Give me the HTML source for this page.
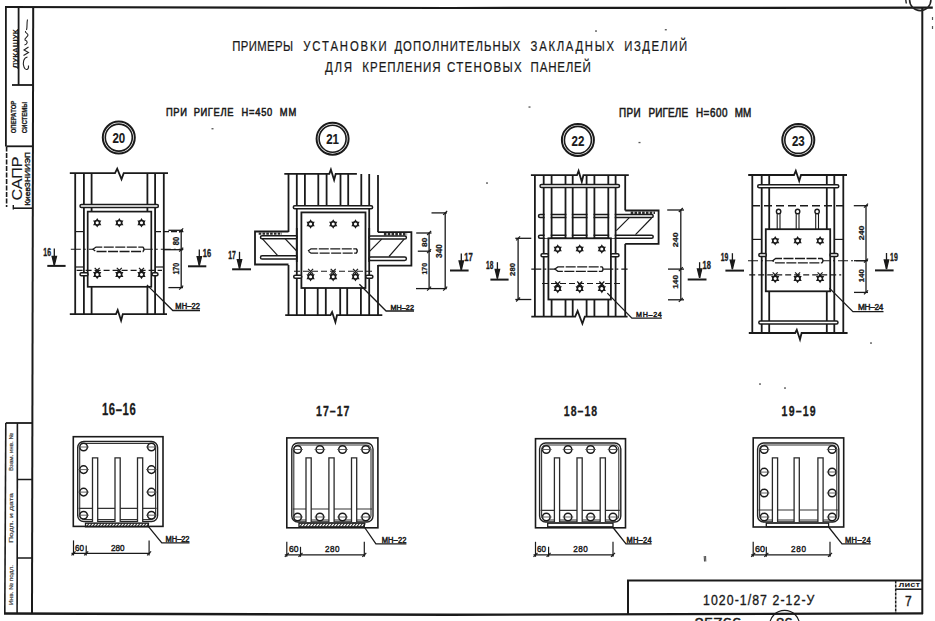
<!DOCTYPE html>
<html><head><meta charset="utf-8"><style>
html,body{margin:0;padding:0;background:#fff;}
svg{display:block;}
</style></head><body>
<svg width="935" height="621" viewBox="0 0 935 621">
<rect x="0" y="0" width="935" height="621" fill="#fff"/>
<polyline points="5.0,7.0 450.0,8.0 932.8,7.7" fill="none" stroke="#1a1a1a" stroke-width="2.2" stroke-linejoin="miter"/>
<line x1="922.3" y1="7.5" x2="922.3" y2="614.0" stroke="#1a1a1a" stroke-width="2" />
<polyline points="4.0,613.5 450.0,614.8 923.0,613.4" fill="none" stroke="#1a1a1a" stroke-width="2.4" stroke-linejoin="miter"/>
<line x1="33.2" y1="7.0" x2="32.0" y2="614.0" stroke="#1a1a1a" stroke-width="2" />
<line x1="5.9" y1="6.5" x2="5.9" y2="146.5" stroke="#1a1a1a" stroke-width="1.8" />
<line x1="6.6" y1="146.5" x2="6.6" y2="207.0" stroke="#1a1a1a" stroke-width="1.6" stroke-dasharray="5,1.5" />
<line x1="18.6" y1="6.5" x2="18.6" y2="85.0" stroke="#1a1a1a" stroke-width="1.8" />
<line x1="12.0" y1="85.0" x2="33.0" y2="85.0" stroke="#1a1a1a" stroke-width="1.8" />
<line x1="6.5" y1="146.3" x2="33.0" y2="146.3" stroke="#1a1a1a" stroke-width="1.8" />
<line x1="5.8" y1="423.0" x2="33.0" y2="423.0" stroke="#1a1a1a" stroke-width="1.8" />
<line x1="5.8" y1="423.0" x2="4.8" y2="613.5" stroke="#1a1a1a" stroke-width="1.6" />
<line x1="17.4" y1="423.0" x2="17.1" y2="613.5" stroke="#1a1a1a" stroke-width="1.6" />
<line x1="17.0" y1="479.5" x2="33.0" y2="479.5" stroke="#1a1a1a" stroke-width="1.5" />
<line x1="17.0" y1="558.0" x2="33.0" y2="558.0" stroke="#1a1a1a" stroke-width="1.5" />
<polyline points="628.0,614.0 628.0,580.5 922.0,580.5" fill="none" stroke="#1a1a1a" stroke-width="2" stroke-linejoin="miter"/>
<line x1="895.7" y1="580.5" x2="895.7" y2="613.5" stroke="#1a1a1a" stroke-width="1.5" stroke-dasharray="3,1" />
<line x1="895.7" y1="589.2" x2="922.0" y2="589.2" stroke="#1a1a1a" stroke-width="1.5" />
<g transform="translate(703.0,604.7) scale(0.86,1)"><text x="0" y="0" font-family="Liberation Sans" font-size="14.31" font-weight="normal" fill="#1a1a1a" stroke="#1a1a1a" stroke-width="0.35" textLength="129.5" lengthAdjust="spacing">1020-1/87 2-12-У</text></g>
<g transform="translate(905.0,605.9) scale(1.0,1)"><text x="0" y="0" font-family="Liberation Sans" font-size="14.31" font-weight="normal" fill="#1a1a1a" stroke="#1a1a1a" stroke-width="0.4" textLength="6.7" lengthAdjust="spacingAndGlyphs">7</text></g>
<g transform="translate(898.6,587.3) scale(1.0,1)"><text x="0" y="0" font-family="Liberation Sans" font-size="6.94" font-weight="bold" fill="#1a1a1a" stroke="#1a1a1a" stroke-width="0" textLength="21.4" lengthAdjust="spacingAndGlyphs">лист</text></g>
<circle cx="784.6" cy="625.4" r="15.0" fill="none" stroke="#1a1a1a" stroke-width="1.2"/>
<g transform="translate(694.6,628.4) scale(1.0,1)"><text x="0" y="0" font-family="Liberation Sans" font-size="15.28" font-weight="normal" fill="#1a1a1a" stroke="#1a1a1a" stroke-width="0.4" textLength="46.6" lengthAdjust="spacingAndGlyphs">25766</text></g>
<g transform="translate(776.0,628.4) scale(1.0,1)"><text x="0" y="0" font-family="Liberation Sans" font-size="15.28" font-weight="normal" fill="#1a1a1a" stroke="#1a1a1a" stroke-width="0.4" textLength="16.7" lengthAdjust="spacingAndGlyphs">86</text></g>
<g transform="translate(14.9,48.8) rotate(-90) translate(-19.5,2.8) scale(1.0,1)"><text x="0" y="0" font-family="Liberation Sans" font-size="7.78" font-weight="bold" fill="#1a1a1a" stroke="#1a1a1a" stroke-width="0.1" textLength="39.0" lengthAdjust="spacingAndGlyphs">ЛУКАШУК</text></g>
<line x1="17.8" y1="29.0" x2="17.8" y2="69.0" stroke="#1a1a1a" stroke-width="0.8" />
<path d="M27.5,57 C23.5,57.5 22.5,63 24,67 C25.5,71 29,70 28.5,65.5 M23.5,55.5 L28.5,52.5 L24,50 L28.5,47 M24.5,45 C28,44 28,41 25,40 C24,38 28,37 28,35 C28,33 24.5,33 25.5,31 M26.5,30 C27.5,27 26.5,24 27.5,19.5" fill="none" stroke="#222" stroke-width="1.1"/>
<g transform="translate(13.6,117.0) rotate(-90) translate(-16.3,2.5) scale(1.0,1)"><text x="0" y="0" font-family="Liberation Sans" font-size="6.94" font-weight="bold" fill="#1a1a1a" stroke="#1a1a1a" stroke-width="0.25" textLength="32.6" lengthAdjust="spacingAndGlyphs">ОПЕРАТОР</text></g>
<g transform="translate(24.5,117.5) rotate(-90) translate(-15.8,2.5) scale(1.0,1)"><text x="0" y="0" font-family="Liberation Sans" font-size="6.94" font-weight="bold" fill="#1a1a1a" stroke="#1a1a1a" stroke-width="0.25" textLength="31.6" lengthAdjust="spacingAndGlyphs">СИСТЕМЫ</text></g>
<g transform="translate(17.1,178.4) rotate(-90) translate(-22.1,5.2) scale(1.0,1)"><text x="0" y="0" font-family="Liberation Sans" font-size="14.31" font-weight="normal" fill="#1a1a1a" stroke="#1a1a1a" stroke-width="0.1" textLength="44.1" lengthAdjust="spacingAndGlyphs">САПР</text></g>
<g transform="translate(26.9,178.9) rotate(-90) translate(-26.9,2.7) scale(1.0,1)"><text x="0" y="0" font-family="Liberation Sans" font-size="7.50" font-weight="normal" fill="#1a1a1a" stroke="#1a1a1a" stroke-width="0.4" textLength="53.8" lengthAdjust="spacingAndGlyphs">КиевЗНИИЭП</text></g>
<line x1="13.3" y1="208.2" x2="33.0" y2="208.2" stroke="#1a1a1a" stroke-width="1.6" />
<line x1="13.3" y1="205.0" x2="13.3" y2="209.5" stroke="#1a1a1a" stroke-width="1.4" />
<g transform="translate(11.0,452.0) rotate(-90) translate(-19.0,2.0) scale(1.0,1)"><text x="0" y="0" font-family="Liberation Sans" font-size="5.56" font-weight="normal" fill="#444" stroke="#444" stroke-width="0.2" textLength="38.0" lengthAdjust="spacingAndGlyphs">Взам. инв. №</text></g>
<g transform="translate(11.0,518.0) rotate(-90) translate(-25.0,2.0) scale(1.0,1)"><text x="0" y="0" font-family="Liberation Sans" font-size="5.56" font-weight="normal" fill="#444" stroke="#444" stroke-width="0.2" textLength="50.0" lengthAdjust="spacingAndGlyphs">Подп. и дата</text></g>
<g transform="translate(11.0,585.0) rotate(-90) translate(-20.0,2.0) scale(1.0,1)"><text x="0" y="0" font-family="Liberation Sans" font-size="5.56" font-weight="normal" fill="#444" stroke="#444" stroke-width="0.2" textLength="40.0" lengthAdjust="spacingAndGlyphs">Инв. № подл.</text></g>
<g transform="translate(232.2,50.5) scale(0.8,1)"><text x="0" y="0" font-family="Liberation Sans" font-size="14.17" font-weight="normal" fill="#1a1a1a" stroke="#1a1a1a" stroke-width="0.22" textLength="76.0" lengthAdjust="spacing">ПРИМЕРЫ</text></g>
<g transform="translate(303.3,50.5) scale(0.8,1)"><text x="0" y="0" font-family="Liberation Sans" font-size="14.17" font-weight="normal" fill="#1a1a1a" stroke="#1a1a1a" stroke-width="0.22" textLength="104.2" lengthAdjust="spacing">УСТАНОВКИ</text></g>
<g transform="translate(394.4,50.5) scale(0.8,1)"><text x="0" y="0" font-family="Liberation Sans" font-size="14.17" font-weight="normal" fill="#1a1a1a" stroke="#1a1a1a" stroke-width="0.22" textLength="157.4" lengthAdjust="spacing">ДОПОЛНИТЕЛЬНЫХ</text></g>
<g transform="translate(530.6,50.5) scale(0.8,1)"><text x="0" y="0" font-family="Liberation Sans" font-size="14.17" font-weight="normal" fill="#1a1a1a" stroke="#1a1a1a" stroke-width="0.22" textLength="104.2" lengthAdjust="spacing">ЗАКЛАДНЫХ</text></g>
<g transform="translate(624.3,50.5) scale(0.8,1)"><text x="0" y="0" font-family="Liberation Sans" font-size="14.17" font-weight="normal" fill="#1a1a1a" stroke="#1a1a1a" stroke-width="0.22" textLength="78.6" lengthAdjust="spacing">ИЗДЕЛИЙ</text></g>
<g transform="translate(325.1,72.4) scale(0.8,1)"><text x="0" y="0" font-family="Liberation Sans" font-size="14.44" font-weight="normal" fill="#1a1a1a" stroke="#1a1a1a" stroke-width="0.22" textLength="33.6" lengthAdjust="spacing">ДЛЯ</text></g>
<g transform="translate(362.3,72.4) scale(0.8,1)"><text x="0" y="0" font-family="Liberation Sans" font-size="14.44" font-weight="normal" fill="#1a1a1a" stroke="#1a1a1a" stroke-width="0.22" textLength="97.9" lengthAdjust="spacing">КРЕПЛЕНИЯ</text></g>
<g transform="translate(447.0,72.4) scale(0.8,1)"><text x="0" y="0" font-family="Liberation Sans" font-size="14.44" font-weight="normal" fill="#1a1a1a" stroke="#1a1a1a" stroke-width="0.22" textLength="93.3" lengthAdjust="spacing">СТЕНОВЫХ</text></g>
<g transform="translate(530.6,72.4) scale(0.8,1)"><text x="0" y="0" font-family="Liberation Sans" font-size="14.44" font-weight="normal" fill="#1a1a1a" stroke="#1a1a1a" stroke-width="0.22" textLength="75.4" lengthAdjust="spacing">ПАНЕЛЕЙ</text></g>
<g transform="translate(166.0,115.7) scale(0.82,1)"><text x="0" y="0" font-family="Liberation Sans" font-size="11.39" font-weight="normal" fill="#1a1a1a" stroke="#1a1a1a" stroke-width="0.55" textLength="25.6" lengthAdjust="spacing">ПРИ</text></g>
<g transform="translate(193.7,115.7) scale(0.82,1)"><text x="0" y="0" font-family="Liberation Sans" font-size="11.39" font-weight="normal" fill="#1a1a1a" stroke="#1a1a1a" stroke-width="0.55" textLength="48.4" lengthAdjust="spacing">РИГЕЛЕ</text></g>
<g transform="translate(241.6,115.7) scale(0.82,1)"><text x="0" y="0" font-family="Liberation Sans" font-size="11.39" font-weight="normal" fill="#1a1a1a" stroke="#1a1a1a" stroke-width="0.55" textLength="37.4" lengthAdjust="spacing">Н=450</text></g>
<g transform="translate(279.8,115.7) scale(0.82,1)"><text x="0" y="0" font-family="Liberation Sans" font-size="11.39" font-weight="normal" fill="#1a1a1a" stroke="#1a1a1a" stroke-width="0.55" textLength="20.0" lengthAdjust="spacing">ММ</text></g>
<g transform="translate(619.1,117.4) scale(0.82,1)"><text x="0" y="0" font-family="Liberation Sans" font-size="12.08" font-weight="normal" fill="#1a1a1a" stroke="#1a1a1a" stroke-width="0.55" textLength="26.1" lengthAdjust="spacing">ПРИ</text></g>
<g transform="translate(648.4,117.4) scale(0.82,1)"><text x="0" y="0" font-family="Liberation Sans" font-size="12.08" font-weight="normal" fill="#1a1a1a" stroke="#1a1a1a" stroke-width="0.55" textLength="48.3" lengthAdjust="spacing">РИГЕЛЕ</text></g>
<g transform="translate(695.9,117.4) scale(0.82,1)"><text x="0" y="0" font-family="Liberation Sans" font-size="12.08" font-weight="normal" fill="#1a1a1a" stroke="#1a1a1a" stroke-width="0.55" textLength="38.5" lengthAdjust="spacing">Н=600</text></g>
<g transform="translate(734.7,117.4) scale(0.82,1)"><text x="0" y="0" font-family="Liberation Sans" font-size="12.08" font-weight="normal" fill="#1a1a1a" stroke="#1a1a1a" stroke-width="0.55" textLength="20.2" lengthAdjust="spacing">ММ</text></g>
<circle cx="118.8" cy="137.6" r="16.0" fill="none" stroke="#1a1a1a" stroke-width="2.0"/>
<circle cx="118.8" cy="137.6" r="13.5" fill="none" stroke="#1a1a1a" stroke-width="1.6"/>
<g transform="translate(112.4,143.2) scale(1.0,1)"><text x="0" y="0" font-family="Liberation Sans" font-size="15.56" font-weight="bold" fill="#1a1a1a" stroke="#1a1a1a" stroke-width="0.15" textLength="12.8" lengthAdjust="spacingAndGlyphs">20</text></g>
<circle cx="332.6" cy="138.7" r="16.0" fill="none" stroke="#1a1a1a" stroke-width="2.0"/>
<circle cx="332.6" cy="138.7" r="13.5" fill="none" stroke="#1a1a1a" stroke-width="1.6"/>
<g transform="translate(326.2,144.3) scale(1.0,1)"><text x="0" y="0" font-family="Liberation Sans" font-size="15.56" font-weight="bold" fill="#1a1a1a" stroke="#1a1a1a" stroke-width="0.15" textLength="12.8" lengthAdjust="spacingAndGlyphs">21</text></g>
<circle cx="577.9" cy="139.9" r="16.0" fill="none" stroke="#1a1a1a" stroke-width="2.0"/>
<circle cx="577.9" cy="139.9" r="13.5" fill="none" stroke="#1a1a1a" stroke-width="1.6"/>
<g transform="translate(571.5,145.5) scale(1.0,1)"><text x="0" y="0" font-family="Liberation Sans" font-size="15.56" font-weight="bold" fill="#1a1a1a" stroke="#1a1a1a" stroke-width="0.15" textLength="12.8" lengthAdjust="spacingAndGlyphs">22</text></g>
<circle cx="798.3" cy="139.9" r="16.0" fill="none" stroke="#1a1a1a" stroke-width="2.0"/>
<circle cx="798.3" cy="139.9" r="13.5" fill="none" stroke="#1a1a1a" stroke-width="1.6"/>
<g transform="translate(791.9,145.5) scale(1.0,1)"><text x="0" y="0" font-family="Liberation Sans" font-size="15.56" font-weight="bold" fill="#1a1a1a" stroke="#1a1a1a" stroke-width="0.15" textLength="12.8" lengthAdjust="spacingAndGlyphs">23</text></g>
<polyline points="69.8,173.1 115.0,173.1 117.2,168.7 121.5,179.3 123.7,173.1 168.0,173.1" fill="none" stroke="#1a1a1a" stroke-width="1.8" stroke-linejoin="miter"/>
<polyline points="69.8,314.1 116.0,314.1 117.7,310.0 121.1,320.5 122.8,314.1 167.0,314.1" fill="none" stroke="#1a1a1a" stroke-width="1.8" stroke-linejoin="miter"/>
<line x1="75.2" y1="173.1" x2="75.2" y2="314.1" stroke="#1a1a1a" stroke-width="1.8" />
<line x1="83.9" y1="173.1" x2="83.9" y2="314.1" stroke="#1a1a1a" stroke-width="1.8" />
<line x1="155.1" y1="173.1" x2="155.1" y2="314.1" stroke="#1a1a1a" stroke-width="1.8" />
<line x1="163.8" y1="173.1" x2="163.8" y2="314.1" stroke="#1a1a1a" stroke-width="1.8" />
<line x1="91.6" y1="173.1" x2="91.6" y2="211.6" stroke="#1a1a1a" stroke-width="1.8" />
<line x1="91.6" y1="286.8" x2="91.6" y2="314.1" stroke="#1a1a1a" stroke-width="1.8" />
<line x1="147.4" y1="173.1" x2="147.4" y2="211.6" stroke="#1a1a1a" stroke-width="1.8" />
<line x1="147.4" y1="286.8" x2="147.4" y2="314.1" stroke="#1a1a1a" stroke-width="1.8" />
<rect x="80.0" y="204.5" width="78.4" height="3.0" rx="1.5" fill="#fff" stroke="#1a1a1a" stroke-width="1.5"/>
<rect x="87.7" y="211.6" width="63.6" height="75.2" rx="0" fill="none" stroke="#1a1a1a" stroke-width="1.7"/>
<polygon points="97.2,219.1 100.4,224.7 94.0,224.7" fill="none" stroke="#1a1a1a" stroke-width="1.1" stroke-linejoin="miter"/>
<polygon points="97.2,226.5 94.0,221.0 100.4,221.0" fill="none" stroke="#1a1a1a" stroke-width="1.1" stroke-linejoin="miter"/>
<circle cx="97.2" cy="222.8" r="2.3" fill="#fff" stroke="#1a1a1a" stroke-width="1.5"/>
<line x1="94.7" y1="267.9" x2="99.7" y2="272.9" stroke="#1a1a1a" stroke-width="1.2" />
<line x1="94.7" y1="272.9" x2="99.7" y2="267.9" stroke="#1a1a1a" stroke-width="1.2" />
<polygon points="97.2,270.8 100.4,276.4 94.0,276.4" fill="none" stroke="#1a1a1a" stroke-width="1.1" stroke-linejoin="miter"/>
<polygon points="97.2,278.2 94.0,272.6 100.4,272.6" fill="none" stroke="#1a1a1a" stroke-width="1.1" stroke-linejoin="miter"/>
<circle cx="97.2" cy="274.5" r="2.3" fill="#fff" stroke="#1a1a1a" stroke-width="1.5"/>
<polygon points="119.3,219.1 122.5,224.7 116.1,224.7" fill="none" stroke="#1a1a1a" stroke-width="1.1" stroke-linejoin="miter"/>
<polygon points="119.3,226.5 116.1,221.0 122.5,221.0" fill="none" stroke="#1a1a1a" stroke-width="1.1" stroke-linejoin="miter"/>
<circle cx="119.3" cy="222.8" r="2.3" fill="#fff" stroke="#1a1a1a" stroke-width="1.5"/>
<line x1="116.8" y1="267.9" x2="121.8" y2="272.9" stroke="#1a1a1a" stroke-width="1.2" />
<line x1="116.8" y1="272.9" x2="121.8" y2="267.9" stroke="#1a1a1a" stroke-width="1.2" />
<polygon points="119.3,270.8 122.5,276.4 116.1,276.4" fill="none" stroke="#1a1a1a" stroke-width="1.1" stroke-linejoin="miter"/>
<polygon points="119.3,278.2 116.1,272.6 122.5,272.6" fill="none" stroke="#1a1a1a" stroke-width="1.1" stroke-linejoin="miter"/>
<circle cx="119.3" cy="274.5" r="2.3" fill="#fff" stroke="#1a1a1a" stroke-width="1.5"/>
<polygon points="141.5,219.1 144.7,224.7 138.3,224.7" fill="none" stroke="#1a1a1a" stroke-width="1.1" stroke-linejoin="miter"/>
<polygon points="141.5,226.5 138.3,221.0 144.7,221.0" fill="none" stroke="#1a1a1a" stroke-width="1.1" stroke-linejoin="miter"/>
<circle cx="141.5" cy="222.8" r="2.3" fill="#fff" stroke="#1a1a1a" stroke-width="1.5"/>
<line x1="139.0" y1="267.9" x2="144.0" y2="272.9" stroke="#1a1a1a" stroke-width="1.2" />
<line x1="139.0" y1="272.9" x2="144.0" y2="267.9" stroke="#1a1a1a" stroke-width="1.2" />
<polygon points="141.5,270.8 144.7,276.4 138.3,276.4" fill="none" stroke="#1a1a1a" stroke-width="1.1" stroke-linejoin="miter"/>
<polygon points="141.5,278.2 138.3,272.6 144.7,272.6" fill="none" stroke="#1a1a1a" stroke-width="1.1" stroke-linejoin="miter"/>
<circle cx="141.5" cy="274.5" r="2.3" fill="#fff" stroke="#1a1a1a" stroke-width="1.5"/>
<line x1="75.0" y1="231.6" x2="84.0" y2="231.6" stroke="#1a1a1a" stroke-width="1.2" />
<line x1="155.0" y1="231.6" x2="183.4" y2="231.6" stroke="#1a1a1a" stroke-width="1.2" stroke-dasharray="6,2" />
<line x1="75.0" y1="267.0" x2="84.0" y2="267.0" stroke="#1a1a1a" stroke-width="1.2" />
<line x1="155.0" y1="267.0" x2="164.0" y2="267.0" stroke="#1a1a1a" stroke-width="1.2" />
<line x1="70.8" y1="249.3" x2="183.4" y2="249.3" stroke="#1a1a1a" stroke-width="1.1" stroke-dasharray="10,3,2,3" />
<path d="M93.0,249.3 L96.0,247.1 L143.0,247.1 Q145.0,249.3 143.0,251.5 L96.0,251.5 Z" fill="#fff" stroke="#1a1a1a" stroke-width="1.3" stroke-dasharray="10,1.5"/>
<line x1="76.6" y1="270.4" x2="162.0" y2="270.4" stroke="#1a1a1a" stroke-width="1.1" stroke-dasharray="6,3" />
<rect x="80.0" y="272.8" width="8.0" height="3.0" rx="1.5" fill="#fff" stroke="#1a1a1a" stroke-width="1.5"/>
<rect x="152.0" y="272.8" width="6.0" height="3.0" rx="1.5" fill="#fff" stroke="#1a1a1a" stroke-width="1.5"/>
<line x1="181.2" y1="230.3" x2="181.2" y2="287.6" stroke="#1a1a1a" stroke-width="1.3" />
<line x1="168.4" y1="230.3" x2="183.0" y2="230.3" stroke="#1a1a1a" stroke-width="1.3" />
<line x1="163.9" y1="249.7" x2="183.0" y2="249.7" stroke="#1a1a1a" stroke-width="1.3" />
<line x1="168.4" y1="287.6" x2="183.0" y2="287.6" stroke="#1a1a1a" stroke-width="1.3" />
<line x1="179.2" y1="232.3" x2="183.2" y2="228.3" stroke="#1a1a1a" stroke-width="1.2" />
<line x1="179.2" y1="251.7" x2="183.2" y2="247.7" stroke="#1a1a1a" stroke-width="1.2" />
<line x1="179.2" y1="289.6" x2="183.2" y2="285.6" stroke="#1a1a1a" stroke-width="1.2" />
<g transform="translate(176.1,241.0) rotate(-90) translate(-4.2,3.1) scale(1.0,1)"><text x="0" y="0" font-family="Liberation Sans" font-size="8.61" font-weight="bold" fill="#1a1a1a" stroke="#1a1a1a" stroke-width="0.25" textLength="8.5" lengthAdjust="spacingAndGlyphs">80</text></g>
<g transform="translate(176.1,268.6) rotate(-90) translate(-6.0,3.1) scale(1.0,1)"><text x="0" y="0" font-family="Liberation Sans" font-size="8.61" font-weight="bold" fill="#1a1a1a" stroke="#1a1a1a" stroke-width="0.25" textLength="11.9" lengthAdjust="spacingAndGlyphs">170</text></g>
<polyline points="146.9,284.9 172.8,310.5 200.0,310.5" fill="none" stroke="#1a1a1a" stroke-width="1.3" stroke-linejoin="miter"/>
<g transform="translate(175.3,308.5) scale(0.9,1)"><text x="0" y="0" font-family="Liberation Sans" font-size="8.33" font-weight="normal" fill="#1a1a1a" stroke="#1a1a1a" stroke-width="0.5" textLength="27.4" lengthAdjust="spacing">МН–22</text></g>
<g transform="translate(43.3,255.7) scale(1.0,1)"><text x="0" y="0" font-family="Liberation Sans" font-size="10.56" font-weight="bold" fill="#1a1a1a" stroke="#1a1a1a" stroke-width="0.35" textLength="7.7" lengthAdjust="spacingAndGlyphs">16</text></g>
<line x1="54.3" y1="248.5" x2="54.3" y2="265.4" stroke="#1a1a1a" stroke-width="1.3" />
<polygon points="52.1,256.4 54.3,265.4 56.5,256.4" fill="#1a1a1a" stroke="#1a1a1a" stroke-width="1.3" stroke-linejoin="miter"/>
<line x1="47.3" y1="265.9" x2="65.6" y2="265.9" stroke="#1a1a1a" stroke-width="2" />
<g transform="translate(202.8,256.7) scale(1.0,1)"><text x="0" y="0" font-family="Liberation Sans" font-size="10.56" font-weight="bold" fill="#1a1a1a" stroke="#1a1a1a" stroke-width="0.35" textLength="8.3" lengthAdjust="spacingAndGlyphs">16</text></g>
<line x1="199.3" y1="249.5" x2="199.3" y2="265.7" stroke="#1a1a1a" stroke-width="1.3" />
<polygon points="197.1,256.7 199.3,265.7 201.5,256.7" fill="#1a1a1a" stroke="#1a1a1a" stroke-width="1.3" stroke-linejoin="miter"/>
<line x1="188.0" y1="266.3" x2="206.3" y2="266.3" stroke="#1a1a1a" stroke-width="2" />
<polyline points="284.3,173.9 329.3,173.9 330.9,169.6 334.1,180.0 335.7,173.9 356.9,173.9" fill="none" stroke="#1a1a1a" stroke-width="1.8" stroke-linejoin="miter"/>
<polyline points="285.2,315.2 330.5,315.2 332.1,312.0 335.4,322.2 337.0,315.2 382.3,315.2" fill="none" stroke="#1a1a1a" stroke-width="1.8" stroke-linejoin="miter"/>
<line x1="288.5" y1="173.9" x2="288.5" y2="232.0" stroke="#1a1a1a" stroke-width="1.8" />
<line x1="288.5" y1="265.0" x2="288.5" y2="315.2" stroke="#1a1a1a" stroke-width="1.8" />
<line x1="378.0" y1="175.0" x2="378.0" y2="232.0" stroke="#1a1a1a" stroke-width="1.8" />
<line x1="378.0" y1="265.0" x2="378.0" y2="315.2" stroke="#1a1a1a" stroke-width="1.8" />
<line x1="296.8" y1="174.0" x2="296.8" y2="315.2" stroke="#1a1a1a" stroke-width="1.8" />
<line x1="369.2" y1="174.0" x2="369.2" y2="315.2" stroke="#1a1a1a" stroke-width="1.8" />
<line x1="304.9" y1="174.0" x2="304.9" y2="206.0" stroke="#1a1a1a" stroke-width="1.8" />
<line x1="304.9" y1="288.0" x2="304.9" y2="315.2" stroke="#1a1a1a" stroke-width="1.8" />
<line x1="318.3" y1="174.0" x2="318.3" y2="206.0" stroke="#1a1a1a" stroke-width="1.8" />
<line x1="317.7" y1="288.0" x2="317.7" y2="315.2" stroke="#1a1a1a" stroke-width="1.8" />
<line x1="326.6" y1="174.0" x2="326.6" y2="206.0" stroke="#1a1a1a" stroke-width="1.8" />
<line x1="325.8" y1="288.0" x2="325.8" y2="315.2" stroke="#1a1a1a" stroke-width="1.8" />
<line x1="340.5" y1="174.0" x2="340.5" y2="206.0" stroke="#1a1a1a" stroke-width="1.8" />
<line x1="340.2" y1="288.0" x2="340.2" y2="315.2" stroke="#1a1a1a" stroke-width="1.8" />
<line x1="348.2" y1="174.0" x2="348.2" y2="206.0" stroke="#1a1a1a" stroke-width="1.8" />
<line x1="347.2" y1="288.0" x2="347.2" y2="315.2" stroke="#1a1a1a" stroke-width="1.8" />
<line x1="361.3" y1="174.0" x2="361.3" y2="206.0" stroke="#1a1a1a" stroke-width="1.8" />
<line x1="360.9" y1="288.0" x2="360.9" y2="315.2" stroke="#1a1a1a" stroke-width="1.8" />
<rect x="293.3" y="205.8" width="79.3" height="3.0" rx="1.5" fill="#fff" stroke="#1a1a1a" stroke-width="1.5"/>
<rect x="301.4" y="212.4" width="64.1" height="75.6" rx="0" fill="none" stroke="#1a1a1a" stroke-width="1.8"/>
<polygon points="310.6,220.3 313.8,225.8 307.4,225.8" fill="none" stroke="#1a1a1a" stroke-width="1.1" stroke-linejoin="miter"/>
<polygon points="310.6,227.7 307.4,222.2 313.8,222.2" fill="none" stroke="#1a1a1a" stroke-width="1.1" stroke-linejoin="miter"/>
<circle cx="310.6" cy="224.0" r="2.3" fill="#fff" stroke="#1a1a1a" stroke-width="1.5"/>
<line x1="308.1" y1="268.8" x2="313.1" y2="273.8" stroke="#1a1a1a" stroke-width="1.2" />
<line x1="308.1" y1="273.8" x2="313.1" y2="268.8" stroke="#1a1a1a" stroke-width="1.2" />
<polygon points="310.6,273.0 313.8,278.6 307.4,278.6" fill="none" stroke="#1a1a1a" stroke-width="1.1" stroke-linejoin="miter"/>
<polygon points="310.6,280.4 307.4,274.8 313.8,274.8" fill="none" stroke="#1a1a1a" stroke-width="1.1" stroke-linejoin="miter"/>
<circle cx="310.6" cy="276.7" r="2.3" fill="#fff" stroke="#1a1a1a" stroke-width="1.5"/>
<polygon points="333.2,220.3 336.4,225.8 330.0,225.8" fill="none" stroke="#1a1a1a" stroke-width="1.1" stroke-linejoin="miter"/>
<polygon points="333.2,227.7 330.0,222.2 336.4,222.2" fill="none" stroke="#1a1a1a" stroke-width="1.1" stroke-linejoin="miter"/>
<circle cx="333.2" cy="224.0" r="2.3" fill="#fff" stroke="#1a1a1a" stroke-width="1.5"/>
<line x1="330.7" y1="268.8" x2="335.7" y2="273.8" stroke="#1a1a1a" stroke-width="1.2" />
<line x1="330.7" y1="273.8" x2="335.7" y2="268.8" stroke="#1a1a1a" stroke-width="1.2" />
<polygon points="333.2,273.0 336.4,278.6 330.0,278.6" fill="none" stroke="#1a1a1a" stroke-width="1.1" stroke-linejoin="miter"/>
<polygon points="333.2,280.4 330.0,274.8 336.4,274.8" fill="none" stroke="#1a1a1a" stroke-width="1.1" stroke-linejoin="miter"/>
<circle cx="333.2" cy="276.7" r="2.3" fill="#fff" stroke="#1a1a1a" stroke-width="1.5"/>
<polygon points="355.5,220.3 358.7,225.8 352.3,225.8" fill="none" stroke="#1a1a1a" stroke-width="1.1" stroke-linejoin="miter"/>
<polygon points="355.5,227.7 352.3,222.2 358.7,222.2" fill="none" stroke="#1a1a1a" stroke-width="1.1" stroke-linejoin="miter"/>
<circle cx="355.5" cy="224.0" r="2.3" fill="#fff" stroke="#1a1a1a" stroke-width="1.5"/>
<line x1="353.0" y1="268.8" x2="358.0" y2="273.8" stroke="#1a1a1a" stroke-width="1.2" />
<line x1="353.0" y1="273.8" x2="358.0" y2="268.8" stroke="#1a1a1a" stroke-width="1.2" />
<polygon points="355.5,273.0 358.7,278.6 352.3,278.6" fill="none" stroke="#1a1a1a" stroke-width="1.1" stroke-linejoin="miter"/>
<polygon points="355.5,280.4 352.3,274.8 358.7,274.8" fill="none" stroke="#1a1a1a" stroke-width="1.1" stroke-linejoin="miter"/>
<circle cx="355.5" cy="276.7" r="2.3" fill="#fff" stroke="#1a1a1a" stroke-width="1.5"/>
<polyline points="288.5,231.5 255.0,231.5 255.0,264.5 288.5,264.5" fill="none" stroke="#1a1a1a" stroke-width="1.8" stroke-linejoin="miter"/>
<line x1="258.7" y1="233.6" x2="282.0" y2="233.6" stroke="#2a2a2a" stroke-width="2.4" stroke-dasharray="2.6,1.2" />
<rect x="260.5" y="235.7" width="36.6" height="3.0" rx="1.5" fill="#fff" stroke="#1a1a1a" stroke-width="1.5"/>
<line x1="262.0" y1="238.4" x2="277.5" y2="255.4" stroke="#1a1a1a" stroke-width="1.2" />
<line x1="284.8" y1="238.4" x2="296.7" y2="251.0" stroke="#1a1a1a" stroke-width="1.2" />
<rect x="260.5" y="255.8" width="36.6" height="3.2" rx="1.6" fill="#fff" stroke="#1a1a1a" stroke-width="1.5"/>
<polyline points="377.8,232.2 411.4,232.2 411.4,265.6 377.8,265.6" fill="none" stroke="#1a1a1a" stroke-width="1.8" stroke-linejoin="miter"/>
<line x1="383.9" y1="234.2" x2="407.1" y2="234.2" stroke="#2a2a2a" stroke-width="2.4" stroke-dasharray="2.6,1.2" />
<rect x="369.0" y="235.9" width="37.4" height="3.2" rx="1.6" fill="#fff" stroke="#1a1a1a" stroke-width="1.5"/>
<line x1="381.7" y1="239.1" x2="369.8" y2="251.1" stroke="#1a1a1a" stroke-width="1.2" />
<line x1="404.2" y1="239.1" x2="389.0" y2="256.5" stroke="#1a1a1a" stroke-width="1.2" />
<rect x="369.0" y="257.0" width="37.4" height="3.4" rx="1.7" fill="#fff" stroke="#1a1a1a" stroke-width="1.5"/>
<line x1="296.8" y1="228.0" x2="296.8" y2="262.0" stroke="#1a1a1a" stroke-width="1.8" />
<line x1="369.2" y1="228.0" x2="369.2" y2="262.0" stroke="#1a1a1a" stroke-width="1.8" />
<path d="M308.0,251.0 L311.0,248.8 L356.3,248.8 Q358.3,251.0 356.3,253.2 L311.0,253.2 Z" fill="#fff" stroke="#1a1a1a" stroke-width="1.3" stroke-dasharray="10,1.5"/>
<line x1="294.0" y1="271.3" x2="373.3" y2="271.3" stroke="#1a1a1a" stroke-width="1.1" stroke-dasharray="6,3" />
<rect x="293.7" y="275.2" width="8.0" height="3.0" rx="1.5" fill="#fff" stroke="#1a1a1a" stroke-width="1.5"/>
<rect x="365.8" y="275.2" width="7.1" height="3.0" rx="1.5" fill="#fff" stroke="#1a1a1a" stroke-width="1.5"/>
<line x1="429.1" y1="233.0" x2="429.1" y2="288.6" stroke="#1a1a1a" stroke-width="1.3" />
<line x1="416.2" y1="233.0" x2="431.5" y2="233.0" stroke="#1a1a1a" stroke-width="1.3" />
<line x1="417.8" y1="251.2" x2="431.0" y2="251.2" stroke="#1a1a1a" stroke-width="1.3" />
<line x1="416.0" y1="288.6" x2="446.8" y2="288.6" stroke="#1a1a1a" stroke-width="1.3" />
<line x1="445.2" y1="212.9" x2="445.2" y2="288.6" stroke="#1a1a1a" stroke-width="1.3" />
<line x1="431.5" y1="212.9" x2="447.0" y2="212.9" stroke="#1a1a1a" stroke-width="1.3" />
<line x1="427.1" y1="235.0" x2="431.1" y2="231.0" stroke="#1a1a1a" stroke-width="1.2" />
<line x1="427.1" y1="253.2" x2="431.1" y2="249.2" stroke="#1a1a1a" stroke-width="1.2" />
<line x1="427.1" y1="290.6" x2="431.1" y2="286.6" stroke="#1a1a1a" stroke-width="1.2" />
<line x1="443.2" y1="214.9" x2="447.2" y2="210.9" stroke="#1a1a1a" stroke-width="1.2" />
<line x1="443.2" y1="290.6" x2="447.2" y2="286.6" stroke="#1a1a1a" stroke-width="1.2" />
<g transform="translate(424.5,242.3) rotate(-90) translate(-4.7,2.9) scale(1.0,1)"><text x="0" y="0" font-family="Liberation Sans" font-size="8.06" font-weight="bold" fill="#1a1a1a" stroke="#1a1a1a" stroke-width="0.25" textLength="9.4" lengthAdjust="spacingAndGlyphs">80</text></g>
<g transform="translate(424.5,268.8) rotate(-90) translate(-5.8,2.9) scale(1.0,1)"><text x="0" y="0" font-family="Liberation Sans" font-size="8.06" font-weight="bold" fill="#1a1a1a" stroke="#1a1a1a" stroke-width="0.25" textLength="11.6" lengthAdjust="spacingAndGlyphs">170</text></g>
<g transform="translate(438.6,251.0) rotate(-90) translate(-6.9,3.2) scale(1.0,1)"><text x="0" y="0" font-family="Liberation Sans" font-size="9.03" font-weight="bold" fill="#1a1a1a" stroke="#1a1a1a" stroke-width="0.25" textLength="13.8" lengthAdjust="spacingAndGlyphs">340</text></g>
<polyline points="359.4,284.2 386.1,311.0 414.0,311.0" fill="none" stroke="#1a1a1a" stroke-width="1.3" stroke-linejoin="miter"/>
<g transform="translate(390.4,309.8) scale(0.9,1)"><text x="0" y="0" font-family="Liberation Sans" font-size="8.06" font-weight="normal" fill="#1a1a1a" stroke="#1a1a1a" stroke-width="0.5" textLength="26.2" lengthAdjust="spacing">МН–22</text></g>
<g transform="translate(228.2,259.1) scale(1.0,1)"><text x="0" y="0" font-family="Liberation Sans" font-size="10.69" font-weight="bold" fill="#1a1a1a" stroke="#1a1a1a" stroke-width="0.35" textLength="7.6" lengthAdjust="spacingAndGlyphs">17</text></g>
<line x1="239.5" y1="251.8" x2="239.5" y2="268.7" stroke="#1a1a1a" stroke-width="1.3" />
<polygon points="237.3,259.7 239.5,268.7 241.7,259.7" fill="#1a1a1a" stroke="#1a1a1a" stroke-width="1.3" stroke-linejoin="miter"/>
<line x1="232.1" y1="269.3" x2="251.0" y2="269.3" stroke="#1a1a1a" stroke-width="2" />
<g transform="translate(464.2,260.7) scale(1.0,1)"><text x="0" y="0" font-family="Liberation Sans" font-size="10.56" font-weight="bold" fill="#1a1a1a" stroke="#1a1a1a" stroke-width="0.35" textLength="8.6" lengthAdjust="spacingAndGlyphs">17</text></g>
<line x1="461.3" y1="253.5" x2="461.3" y2="270.0" stroke="#1a1a1a" stroke-width="1.3" />
<polygon points="459.1,261.0 461.3,270.0 463.5,261.0" fill="#1a1a1a" stroke="#1a1a1a" stroke-width="1.3" stroke-linejoin="miter"/>
<line x1="450.0" y1="270.5" x2="468.6" y2="270.5" stroke="#1a1a1a" stroke-width="2" />
<polyline points="530.9,175.2 577.0,175.2 578.6,170.9 581.8,181.7 583.4,175.2 628.8,175.2" fill="none" stroke="#1a1a1a" stroke-width="1.8" stroke-linejoin="miter"/>
<polyline points="531.3,316.6 575.2,316.6 577.6,311.0 582.4,323.7 584.8,316.6 627.6,316.6" fill="none" stroke="#1a1a1a" stroke-width="1.8" stroke-linejoin="miter"/>
<rect x="538.5" y="214.5" width="114.7" height="3.0" rx="1.5" fill="#fff" stroke="#1a1a1a" stroke-width="1.5"/>
<rect x="538.5" y="235.3" width="114.7" height="3.0" rx="1.5" fill="#fff" stroke="#1a1a1a" stroke-width="1.5"/>
<rect x="544.6" y="178" width="6.1" height="60.3" fill="#fff"/>
<rect x="566.4" y="178" width="5.4" height="60.3" fill="#fff"/>
<rect x="587.5" y="178" width="6.0" height="60.3" fill="#fff"/>
<rect x="609.2" y="178" width="5.5" height="60.3" fill="#fff"/>
<line x1="534.9" y1="175.2" x2="534.9" y2="316.6" stroke="#1a1a1a" stroke-width="1.8" />
<line x1="543.7" y1="175.2" x2="543.7" y2="316.6" stroke="#1a1a1a" stroke-width="1.8" />
<line x1="615.6" y1="175.2" x2="615.6" y2="316.6" stroke="#1a1a1a" stroke-width="1.8" />
<line x1="551.6" y1="175.2" x2="551.6" y2="238.3" stroke="#1a1a1a" stroke-width="1.8" />
<line x1="551.6" y1="299.5" x2="551.6" y2="316.6" stroke="#1a1a1a" stroke-width="1.8" />
<line x1="565.5" y1="175.2" x2="565.5" y2="238.3" stroke="#1a1a1a" stroke-width="1.8" />
<line x1="565.5" y1="299.5" x2="565.5" y2="316.6" stroke="#1a1a1a" stroke-width="1.8" />
<line x1="572.7" y1="175.2" x2="572.7" y2="238.3" stroke="#1a1a1a" stroke-width="1.8" />
<line x1="572.7" y1="299.5" x2="572.7" y2="316.6" stroke="#1a1a1a" stroke-width="1.8" />
<line x1="586.6" y1="175.2" x2="586.6" y2="238.3" stroke="#1a1a1a" stroke-width="1.8" />
<line x1="586.6" y1="299.5" x2="586.6" y2="316.6" stroke="#1a1a1a" stroke-width="1.8" />
<line x1="594.4" y1="175.2" x2="594.4" y2="238.3" stroke="#1a1a1a" stroke-width="1.8" />
<line x1="594.4" y1="299.5" x2="594.4" y2="316.6" stroke="#1a1a1a" stroke-width="1.8" />
<line x1="608.3" y1="175.2" x2="608.3" y2="238.3" stroke="#1a1a1a" stroke-width="1.8" />
<line x1="608.3" y1="299.5" x2="608.3" y2="316.6" stroke="#1a1a1a" stroke-width="1.8" />
<line x1="625.2" y1="175.2" x2="625.2" y2="210.5" stroke="#1a1a1a" stroke-width="1.8" />
<line x1="625.2" y1="243.9" x2="625.2" y2="316.6" stroke="#1a1a1a" stroke-width="1.8" />
<rect x="540.0" y="184.6" width="79.5" height="3.0" rx="1.5" fill="#fff" stroke="#1a1a1a" stroke-width="1.5"/>
<polyline points="625.2,210.5 658.6,210.5 658.6,243.9 625.2,243.9" fill="none" stroke="#1a1a1a" stroke-width="1.8" stroke-linejoin="miter"/>
<line x1="630.7" y1="212.8" x2="655.0" y2="212.8" stroke="#2a2a2a" stroke-width="2.4" stroke-dasharray="2.6,1.2" />
<line x1="616.3" y1="230.6" x2="629.1" y2="217.8" stroke="#1a1a1a" stroke-width="1.2" />
<line x1="635.5" y1="234.6" x2="651.6" y2="218.0" stroke="#1a1a1a" stroke-width="1.2" />
<rect x="548.4" y="238.3" width="62.5" height="61.2" rx="0" fill="#fff" stroke="#1a1a1a" stroke-width="1.8"/>
<polygon points="557.7,245.3 560.9,250.8 554.5,250.8" fill="none" stroke="#1a1a1a" stroke-width="1.1" stroke-linejoin="miter"/>
<polygon points="557.7,252.7 554.5,247.2 560.9,247.2" fill="none" stroke="#1a1a1a" stroke-width="1.1" stroke-linejoin="miter"/>
<circle cx="557.7" cy="249.0" r="2.3" fill="#fff" stroke="#1a1a1a" stroke-width="1.5"/>
<line x1="555.2" y1="281.5" x2="560.2" y2="286.5" stroke="#1a1a1a" stroke-width="1.2" />
<line x1="555.2" y1="286.5" x2="560.2" y2="281.5" stroke="#1a1a1a" stroke-width="1.2" />
<polygon points="557.7,284.9 560.9,290.5 554.5,290.5" fill="none" stroke="#1a1a1a" stroke-width="1.1" stroke-linejoin="miter"/>
<polygon points="557.7,292.3 554.5,286.8 560.9,286.8" fill="none" stroke="#1a1a1a" stroke-width="1.1" stroke-linejoin="miter"/>
<circle cx="557.7" cy="288.6" r="2.3" fill="#fff" stroke="#1a1a1a" stroke-width="1.5"/>
<polygon points="579.7,245.3 582.9,250.8 576.5,250.8" fill="none" stroke="#1a1a1a" stroke-width="1.1" stroke-linejoin="miter"/>
<polygon points="579.7,252.7 576.5,247.2 582.9,247.2" fill="none" stroke="#1a1a1a" stroke-width="1.1" stroke-linejoin="miter"/>
<circle cx="579.7" cy="249.0" r="2.3" fill="#fff" stroke="#1a1a1a" stroke-width="1.5"/>
<line x1="577.2" y1="281.5" x2="582.2" y2="286.5" stroke="#1a1a1a" stroke-width="1.2" />
<line x1="577.2" y1="286.5" x2="582.2" y2="281.5" stroke="#1a1a1a" stroke-width="1.2" />
<polygon points="579.7,284.9 582.9,290.5 576.5,290.5" fill="none" stroke="#1a1a1a" stroke-width="1.1" stroke-linejoin="miter"/>
<polygon points="579.7,292.3 576.5,286.8 582.9,286.8" fill="none" stroke="#1a1a1a" stroke-width="1.1" stroke-linejoin="miter"/>
<circle cx="579.7" cy="288.6" r="2.3" fill="#fff" stroke="#1a1a1a" stroke-width="1.5"/>
<polygon points="601.8,245.3 605.0,250.8 598.6,250.8" fill="none" stroke="#1a1a1a" stroke-width="1.1" stroke-linejoin="miter"/>
<polygon points="601.8,252.7 598.6,247.2 605.0,247.2" fill="none" stroke="#1a1a1a" stroke-width="1.1" stroke-linejoin="miter"/>
<circle cx="601.8" cy="249.0" r="2.3" fill="#fff" stroke="#1a1a1a" stroke-width="1.5"/>
<line x1="599.3" y1="281.5" x2="604.3" y2="286.5" stroke="#1a1a1a" stroke-width="1.2" />
<line x1="599.3" y1="286.5" x2="604.3" y2="281.5" stroke="#1a1a1a" stroke-width="1.2" />
<polygon points="601.8,284.9 605.0,290.5 598.6,290.5" fill="none" stroke="#1a1a1a" stroke-width="1.1" stroke-linejoin="miter"/>
<polygon points="601.8,292.3 598.6,286.8 605.0,286.8" fill="none" stroke="#1a1a1a" stroke-width="1.1" stroke-linejoin="miter"/>
<circle cx="601.8" cy="288.6" r="2.3" fill="#fff" stroke="#1a1a1a" stroke-width="1.5"/>
<rect x="541.0" y="253.7" width="7.4" height="3.0" rx="1.5" fill="#fff" stroke="#1a1a1a" stroke-width="1.5"/>
<rect x="610.9" y="253.7" width="8.1" height="3.0" rx="1.5" fill="#fff" stroke="#1a1a1a" stroke-width="1.5"/>
<line x1="531.3" y1="269.1" x2="627.6" y2="269.1" stroke="#1a1a1a" stroke-width="1.1" stroke-dasharray="10,3,2,3" />
<path d="M554.9,269.1 L557.9,266.9 L602.1,266.9 Q604.1,269.1 602.1,271.3 L557.9,271.3 Z" fill="#fff" stroke="#1a1a1a" stroke-width="1.3" stroke-dasharray="10,1.5"/>
<line x1="542.0" y1="283.5" x2="621.2" y2="283.5" stroke="#1a1a1a" stroke-width="1.1" stroke-dasharray="6,3" />
<line x1="518.1" y1="238.3" x2="518.1" y2="299.5" stroke="#1a1a1a" stroke-width="1.3" />
<line x1="515.3" y1="238.3" x2="531.3" y2="238.3" stroke="#1a1a1a" stroke-width="1.3" />
<line x1="515.3" y1="299.5" x2="531.3" y2="299.5" stroke="#1a1a1a" stroke-width="1.3" />
<line x1="516.1" y1="240.3" x2="520.1" y2="236.3" stroke="#1a1a1a" stroke-width="1.2" />
<line x1="516.1" y1="301.5" x2="520.1" y2="297.5" stroke="#1a1a1a" stroke-width="1.2" />
<g transform="translate(512.1,269.4) rotate(-90) translate(-6.5,2.9) scale(1.0,1)"><text x="0" y="0" font-family="Liberation Sans" font-size="8.06" font-weight="bold" fill="#1a1a1a" stroke="#1a1a1a" stroke-width="0.25" textLength="12.9" lengthAdjust="spacingAndGlyphs">280</text></g>
<g transform="translate(486.1,269.2) scale(1.0,1)"><text x="0" y="0" font-family="Liberation Sans" font-size="10.14" font-weight="bold" fill="#1a1a1a" stroke="#1a1a1a" stroke-width="0.35" textLength="7.3" lengthAdjust="spacingAndGlyphs">18</text></g>
<line x1="497.4" y1="262.2" x2="497.4" y2="278.5" stroke="#1a1a1a" stroke-width="1.3" />
<polygon points="495.2,269.5 497.4,278.5 499.6,269.5" fill="#1a1a1a" stroke="#1a1a1a" stroke-width="1.3" stroke-linejoin="miter"/>
<line x1="490.4" y1="279.6" x2="508.6" y2="279.6" stroke="#1a1a1a" stroke-width="2" />
<polyline points="607.3,293.1 631.9,318.1 661.8,318.1" fill="none" stroke="#1a1a1a" stroke-width="1.3" stroke-linejoin="miter"/>
<g transform="translate(636.1,316.6) scale(0.9,1)"><text x="0" y="0" font-family="Liberation Sans" font-size="7.92" font-weight="normal" fill="#1a1a1a" stroke="#1a1a1a" stroke-width="0.5" textLength="28.6" lengthAdjust="spacing">МН–24</text></g>
<line x1="680.8" y1="209.9" x2="680.8" y2="299.8" stroke="#1a1a1a" stroke-width="1.3" />
<line x1="667.2" y1="210.0" x2="684.0" y2="210.0" stroke="#1a1a1a" stroke-width="1.3" />
<line x1="668.0" y1="269.1" x2="684.0" y2="269.1" stroke="#1a1a1a" stroke-width="1.3" />
<line x1="668.0" y1="299.8" x2="684.0" y2="299.8" stroke="#1a1a1a" stroke-width="1.3" />
<line x1="678.8" y1="212.0" x2="682.8" y2="208.0" stroke="#1a1a1a" stroke-width="1.2" />
<line x1="678.8" y1="271.1" x2="682.8" y2="267.1" stroke="#1a1a1a" stroke-width="1.2" />
<line x1="678.8" y1="301.8" x2="682.8" y2="297.8" stroke="#1a1a1a" stroke-width="1.2" />
<g transform="translate(675.5,239.8) rotate(-90) translate(-7.4,2.6) scale(1.0,1)"><text x="0" y="0" font-family="Liberation Sans" font-size="7.22" font-weight="bold" fill="#1a1a1a" stroke="#1a1a1a" stroke-width="0.25" textLength="14.8" lengthAdjust="spacingAndGlyphs">240</text></g>
<g transform="translate(675.5,281.8) rotate(-90) translate(-7.0,2.6) scale(1.0,1)"><text x="0" y="0" font-family="Liberation Sans" font-size="7.22" font-weight="bold" fill="#1a1a1a" stroke="#1a1a1a" stroke-width="0.25" textLength="14.0" lengthAdjust="spacingAndGlyphs">140</text></g>
<g transform="translate(702.5,269.2) scale(1.0,1)"><text x="0" y="0" font-family="Liberation Sans" font-size="10.56" font-weight="bold" fill="#1a1a1a" stroke="#1a1a1a" stroke-width="0.35" textLength="8.3" lengthAdjust="spacingAndGlyphs">18</text></g>
<line x1="699.6" y1="262.2" x2="699.6" y2="277.9" stroke="#1a1a1a" stroke-width="1.3" />
<polygon points="697.4,268.9 699.6,277.9 701.8,268.9" fill="#1a1a1a" stroke="#1a1a1a" stroke-width="1.3" stroke-linejoin="miter"/>
<line x1="687.7" y1="279.5" x2="706.5" y2="279.5" stroke="#1a1a1a" stroke-width="2" />
<polyline points="748.2,175.0 794.0,175.0 795.8,170.8 799.2,181.0 801.0,175.0 847.0,175.0" fill="none" stroke="#1a1a1a" stroke-width="1.8" stroke-linejoin="miter"/>
<polyline points="748.8,333.0 795.2,333.0 796.8,329.8 800.0,339.5 801.6,333.0 847.6,333.0" fill="none" stroke="#1a1a1a" stroke-width="1.8" stroke-linejoin="miter"/>
<line x1="752.3" y1="175.0" x2="752.3" y2="333.0" stroke="#1a1a1a" stroke-width="1.8" />
<line x1="761.7" y1="175.0" x2="761.7" y2="333.0" stroke="#1a1a1a" stroke-width="1.8" />
<line x1="834.3" y1="175.0" x2="834.3" y2="333.0" stroke="#1a1a1a" stroke-width="1.8" />
<line x1="843.3" y1="175.0" x2="843.3" y2="333.0" stroke="#1a1a1a" stroke-width="1.8" />
<line x1="769.2" y1="175.0" x2="769.2" y2="229.2" stroke="#1a1a1a" stroke-width="1.8" />
<line x1="769.2" y1="291.3" x2="769.2" y2="333.0" stroke="#1a1a1a" stroke-width="1.8" />
<line x1="826.8" y1="175.0" x2="826.8" y2="229.2" stroke="#1a1a1a" stroke-width="1.8" />
<line x1="826.8" y1="291.3" x2="826.8" y2="333.0" stroke="#1a1a1a" stroke-width="1.8" />
<rect x="757.7" y="184.7" width="81.1" height="3.0" rx="1.5" fill="#fff" stroke="#1a1a1a" stroke-width="1.5"/>
<rect x="758.8" y="320.9" width="79.2" height="3.0" rx="1.5" fill="#fff" stroke="#1a1a1a" stroke-width="1.5"/>
<line x1="752.0" y1="205.7" x2="843.0" y2="205.7" stroke="#1a1a1a" stroke-width="1.4" stroke-dasharray="8,4" />
<line x1="853.8" y1="205.7" x2="868.0" y2="205.7" stroke="#1a1a1a" stroke-width="1.3" />
<line x1="777.2" y1="213.0" x2="777.2" y2="229.2" stroke="#1a1a1a" stroke-width="1.1" />
<line x1="780.0" y1="213.0" x2="780.0" y2="229.2" stroke="#1a1a1a" stroke-width="1.1" />
<circle cx="778.6" cy="211.5" r="2.2" fill="none" stroke="#1a1a1a" stroke-width="1.4"/>
<line x1="796.2" y1="213.0" x2="796.2" y2="229.2" stroke="#1a1a1a" stroke-width="1.1" />
<line x1="799.0" y1="213.0" x2="799.0" y2="229.2" stroke="#1a1a1a" stroke-width="1.1" />
<circle cx="797.6" cy="211.5" r="2.2" fill="none" stroke="#1a1a1a" stroke-width="1.4"/>
<line x1="815.7" y1="213.0" x2="815.7" y2="229.2" stroke="#1a1a1a" stroke-width="1.1" />
<line x1="818.5" y1="213.0" x2="818.5" y2="229.2" stroke="#1a1a1a" stroke-width="1.1" />
<circle cx="817.1" cy="211.5" r="2.2" fill="none" stroke="#1a1a1a" stroke-width="1.4"/>
<rect x="765.8" y="229.2" width="64.4" height="62.1" rx="0" fill="none" stroke="#1a1a1a" stroke-width="1.8"/>
<polygon points="775.2,237.1 778.4,242.7 772.0,242.7" fill="none" stroke="#1a1a1a" stroke-width="1.1" stroke-linejoin="miter"/>
<polygon points="775.2,244.5 772.0,239.0 778.4,239.0" fill="none" stroke="#1a1a1a" stroke-width="1.1" stroke-linejoin="miter"/>
<circle cx="775.2" cy="240.8" r="2.3" fill="#fff" stroke="#1a1a1a" stroke-width="1.5"/>
<line x1="772.7" y1="272.4" x2="777.7" y2="277.4" stroke="#1a1a1a" stroke-width="1.2" />
<line x1="772.7" y1="277.4" x2="777.7" y2="272.4" stroke="#1a1a1a" stroke-width="1.2" />
<polygon points="775.2,274.8 778.4,280.4 772.0,280.4" fill="none" stroke="#1a1a1a" stroke-width="1.1" stroke-linejoin="miter"/>
<polygon points="775.2,282.2 772.0,276.6 778.4,276.6" fill="none" stroke="#1a1a1a" stroke-width="1.1" stroke-linejoin="miter"/>
<circle cx="775.2" cy="278.5" r="2.3" fill="#fff" stroke="#1a1a1a" stroke-width="1.5"/>
<polygon points="797.6,237.1 800.8,242.7 794.4,242.7" fill="none" stroke="#1a1a1a" stroke-width="1.1" stroke-linejoin="miter"/>
<polygon points="797.6,244.5 794.4,239.0 800.8,239.0" fill="none" stroke="#1a1a1a" stroke-width="1.1" stroke-linejoin="miter"/>
<circle cx="797.6" cy="240.8" r="2.3" fill="#fff" stroke="#1a1a1a" stroke-width="1.5"/>
<line x1="795.1" y1="272.4" x2="800.1" y2="277.4" stroke="#1a1a1a" stroke-width="1.2" />
<line x1="795.1" y1="277.4" x2="800.1" y2="272.4" stroke="#1a1a1a" stroke-width="1.2" />
<polygon points="797.6,274.8 800.8,280.4 794.4,280.4" fill="none" stroke="#1a1a1a" stroke-width="1.1" stroke-linejoin="miter"/>
<polygon points="797.6,282.2 794.4,276.6 800.8,276.6" fill="none" stroke="#1a1a1a" stroke-width="1.1" stroke-linejoin="miter"/>
<circle cx="797.6" cy="278.5" r="2.3" fill="#fff" stroke="#1a1a1a" stroke-width="1.5"/>
<polygon points="820.1,237.1 823.3,242.7 816.9,242.7" fill="none" stroke="#1a1a1a" stroke-width="1.1" stroke-linejoin="miter"/>
<polygon points="820.1,244.5 816.9,239.0 823.3,239.0" fill="none" stroke="#1a1a1a" stroke-width="1.1" stroke-linejoin="miter"/>
<circle cx="820.1" cy="240.8" r="2.3" fill="#fff" stroke="#1a1a1a" stroke-width="1.5"/>
<line x1="817.6" y1="272.4" x2="822.6" y2="277.4" stroke="#1a1a1a" stroke-width="1.2" />
<line x1="817.6" y1="277.4" x2="822.6" y2="272.4" stroke="#1a1a1a" stroke-width="1.2" />
<polygon points="820.1,274.8 823.3,280.4 816.9,280.4" fill="none" stroke="#1a1a1a" stroke-width="1.1" stroke-linejoin="miter"/>
<polygon points="820.1,282.2 816.9,276.6 823.3,276.6" fill="none" stroke="#1a1a1a" stroke-width="1.1" stroke-linejoin="miter"/>
<circle cx="820.1" cy="278.5" r="2.3" fill="#fff" stroke="#1a1a1a" stroke-width="1.5"/>
<line x1="752.0" y1="239.4" x2="762.0" y2="239.4" stroke="#1a1a1a" stroke-width="1.2" />
<line x1="834.0" y1="239.4" x2="843.0" y2="239.4" stroke="#1a1a1a" stroke-width="1.2" />
<line x1="748.0" y1="260.7" x2="869.0" y2="260.7" stroke="#1a1a1a" stroke-width="1.1" stroke-dasharray="10,3,2,3" />
<path d="M772.7,260.7 L775.7,258.5 L822.0,258.5 Q824.0,260.7 822.0,262.9 L775.7,262.9 Z" fill="#fff" stroke="#1a1a1a" stroke-width="1.3" stroke-dasharray="10,1.5"/>
<rect x="758.8" y="253.5" width="7.5" height="3.0" rx="1.5" fill="#fff" stroke="#1a1a1a" stroke-width="1.5"/>
<rect x="830.0" y="253.5" width="8.0" height="3.0" rx="1.5" fill="#fff" stroke="#1a1a1a" stroke-width="1.5"/>
<line x1="749.2" y1="274.9" x2="841.2" y2="274.9" stroke="#1a1a1a" stroke-width="1.1" stroke-dasharray="6,3" />
<polyline points="829.4,288.1 852.9,311.7 883.5,311.7" fill="none" stroke="#1a1a1a" stroke-width="1.3" stroke-linejoin="miter"/>
<g transform="translate(857.9,310.2) scale(0.9,1)"><text x="0" y="0" font-family="Liberation Sans" font-size="9.17" font-weight="normal" fill="#1a1a1a" stroke="#1a1a1a" stroke-width="0.5" textLength="28.4" lengthAdjust="spacing">МН–24</text></g>
<line x1="866.0" y1="205.7" x2="866.0" y2="292.4" stroke="#1a1a1a" stroke-width="1.3" />
<line x1="854.0" y1="260.7" x2="868.0" y2="260.7" stroke="#1a1a1a" stroke-width="1.3" />
<line x1="854.0" y1="292.4" x2="868.0" y2="292.4" stroke="#1a1a1a" stroke-width="1.3" />
<line x1="864.0" y1="207.7" x2="868.0" y2="203.7" stroke="#1a1a1a" stroke-width="1.2" />
<line x1="864.0" y1="262.7" x2="868.0" y2="258.7" stroke="#1a1a1a" stroke-width="1.2" />
<line x1="864.0" y1="294.4" x2="868.0" y2="290.4" stroke="#1a1a1a" stroke-width="1.2" />
<g transform="translate(861.3,233.0) rotate(-90) translate(-7.2,2.6) scale(1.0,1)"><text x="0" y="0" font-family="Liberation Sans" font-size="7.36" font-weight="bold" fill="#1a1a1a" stroke="#1a1a1a" stroke-width="0.25" textLength="14.5" lengthAdjust="spacingAndGlyphs">240</text></g>
<g transform="translate(861.3,275.7) rotate(-90) translate(-6.5,2.6) scale(1.0,1)"><text x="0" y="0" font-family="Liberation Sans" font-size="7.36" font-weight="bold" fill="#1a1a1a" stroke="#1a1a1a" stroke-width="0.25" textLength="13.0" lengthAdjust="spacingAndGlyphs">140</text></g>
<g transform="translate(720.7,260.7) scale(1.0,1)"><text x="0" y="0" font-family="Liberation Sans" font-size="10.28" font-weight="bold" fill="#1a1a1a" stroke="#1a1a1a" stroke-width="0.35" textLength="7.6" lengthAdjust="spacingAndGlyphs">19</text></g>
<line x1="732.4" y1="253.2" x2="732.4" y2="269.2" stroke="#1a1a1a" stroke-width="1.3" />
<polygon points="730.2,260.2 732.4,269.2 734.6,260.2" fill="#1a1a1a" stroke="#1a1a1a" stroke-width="1.3" stroke-linejoin="miter"/>
<line x1="725.4" y1="270.6" x2="744.0" y2="270.6" stroke="#1a1a1a" stroke-width="2" />
<g transform="translate(890.1,260.7) scale(1.0,1)"><text x="0" y="0" font-family="Liberation Sans" font-size="10.56" font-weight="bold" fill="#1a1a1a" stroke="#1a1a1a" stroke-width="0.35" textLength="7.7" lengthAdjust="spacingAndGlyphs">19</text></g>
<line x1="886.5" y1="253.0" x2="886.5" y2="269.0" stroke="#1a1a1a" stroke-width="1.3" />
<polygon points="884.3,260.0 886.5,269.0 888.7,260.0" fill="#1a1a1a" stroke="#1a1a1a" stroke-width="1.3" stroke-linejoin="miter"/>
<line x1="875.0" y1="270.4" x2="893.6" y2="270.4" stroke="#1a1a1a" stroke-width="2" />
<g transform="translate(102.0,414.8) scale(0.7,1)"><text x="0" y="0" font-family="Liberation Sans" font-size="16.11" font-weight="bold" fill="#1a1a1a" stroke="#1a1a1a" stroke-width="0.3" textLength="48.1" lengthAdjust="spacing">16–16</text></g>
<rect x="73.3" y="436.7" width="89.7" height="89.7" rx="0" fill="none" stroke="#1a1a1a" stroke-width="1.6"/>
<rect x="77.7" y="441.5" width="79.9" height="80.0" rx="6" fill="none" stroke="#222" stroke-width="1.4"/>
<rect x="79.7" y="443.5" width="75.9" height="76.0" rx="4.5" fill="none" stroke="#333" stroke-width="1.1"/>
<line x1="78.7" y1="508.4" x2="156.6" y2="508.4" stroke="#333" stroke-width="1.2" />
<path d="M92.5,522.0 V457.8 H97.7 V522.0" fill="#fff" stroke="#2a2a2a" stroke-width="1.3"/>
<path d="M115.0,522.0 V457.8 H120.2 V522.0" fill="#fff" stroke="#2a2a2a" stroke-width="1.3"/>
<path d="M137.5,522.0 V457.8 H142.7 V522.0" fill="#fff" stroke="#2a2a2a" stroke-width="1.3"/>
<circle cx="83.6" cy="447.0" r="3.8" fill="#fff" stroke="#1a1a1a" stroke-width="1.5"/>
<line x1="78.3" y1="447.0" x2="88.9" y2="447.0" stroke="#555" stroke-width="0.9" />
<circle cx="83.6" cy="469.6" r="3.8" fill="#fff" stroke="#1a1a1a" stroke-width="1.5"/>
<line x1="78.3" y1="469.6" x2="88.9" y2="469.6" stroke="#555" stroke-width="0.9" />
<circle cx="83.6" cy="492.1" r="3.8" fill="#fff" stroke="#1a1a1a" stroke-width="1.5"/>
<line x1="78.3" y1="492.1" x2="88.9" y2="492.1" stroke="#555" stroke-width="0.9" />
<circle cx="83.6" cy="515.2" r="3.8" fill="#fff" stroke="#1a1a1a" stroke-width="1.5"/>
<line x1="78.3" y1="515.2" x2="88.9" y2="515.2" stroke="#555" stroke-width="0.9" />
<circle cx="151.4" cy="447.0" r="3.8" fill="#fff" stroke="#1a1a1a" stroke-width="1.5"/>
<line x1="146.1" y1="447.0" x2="156.7" y2="447.0" stroke="#555" stroke-width="0.9" />
<circle cx="151.4" cy="469.6" r="3.8" fill="#fff" stroke="#1a1a1a" stroke-width="1.5"/>
<line x1="146.1" y1="469.6" x2="156.7" y2="469.6" stroke="#555" stroke-width="0.9" />
<circle cx="151.4" cy="492.1" r="3.8" fill="#fff" stroke="#1a1a1a" stroke-width="1.5"/>
<line x1="146.1" y1="492.1" x2="156.7" y2="492.1" stroke="#555" stroke-width="0.9" />
<circle cx="151.4" cy="515.2" r="3.8" fill="#fff" stroke="#1a1a1a" stroke-width="1.5"/>
<line x1="146.1" y1="515.2" x2="156.7" y2="515.2" stroke="#555" stroke-width="0.9" />
<rect x="85.5" y="523.2" width="62.8" height="3.6" rx="0" fill="none" stroke="#1a1a1a" stroke-width="1.3"/>
<line x1="86.5" y1="526.5" x2="89.0" y2="523.5" stroke="#1a1a1a" stroke-width="1.1" />
<line x1="89.5" y1="526.5" x2="92.0" y2="523.5" stroke="#1a1a1a" stroke-width="1.1" />
<line x1="92.5" y1="526.5" x2="95.0" y2="523.5" stroke="#1a1a1a" stroke-width="1.1" />
<line x1="95.5" y1="526.5" x2="98.0" y2="523.5" stroke="#1a1a1a" stroke-width="1.1" />
<line x1="98.5" y1="526.5" x2="101.0" y2="523.5" stroke="#1a1a1a" stroke-width="1.1" />
<line x1="101.5" y1="526.5" x2="104.0" y2="523.5" stroke="#1a1a1a" stroke-width="1.1" />
<line x1="104.5" y1="526.5" x2="107.0" y2="523.5" stroke="#1a1a1a" stroke-width="1.1" />
<line x1="107.5" y1="526.5" x2="110.0" y2="523.5" stroke="#1a1a1a" stroke-width="1.1" />
<line x1="110.5" y1="526.5" x2="113.0" y2="523.5" stroke="#1a1a1a" stroke-width="1.1" />
<line x1="113.5" y1="526.5" x2="116.0" y2="523.5" stroke="#1a1a1a" stroke-width="1.1" />
<line x1="116.5" y1="526.5" x2="119.0" y2="523.5" stroke="#1a1a1a" stroke-width="1.1" />
<line x1="119.5" y1="526.5" x2="122.0" y2="523.5" stroke="#1a1a1a" stroke-width="1.1" />
<line x1="122.5" y1="526.5" x2="125.0" y2="523.5" stroke="#1a1a1a" stroke-width="1.1" />
<line x1="125.5" y1="526.5" x2="128.0" y2="523.5" stroke="#1a1a1a" stroke-width="1.1" />
<line x1="128.5" y1="526.5" x2="131.0" y2="523.5" stroke="#1a1a1a" stroke-width="1.1" />
<line x1="131.5" y1="526.5" x2="134.0" y2="523.5" stroke="#1a1a1a" stroke-width="1.1" />
<line x1="134.5" y1="526.5" x2="137.0" y2="523.5" stroke="#1a1a1a" stroke-width="1.1" />
<line x1="137.5" y1="526.5" x2="140.0" y2="523.5" stroke="#1a1a1a" stroke-width="1.1" />
<line x1="140.5" y1="526.5" x2="143.0" y2="523.5" stroke="#1a1a1a" stroke-width="1.1" />
<line x1="143.5" y1="526.5" x2="146.0" y2="523.5" stroke="#1a1a1a" stroke-width="1.1" />
<line x1="146.5" y1="526.5" x2="149.0" y2="523.5" stroke="#1a1a1a" stroke-width="1.1" />
<polyline points="148.3,526.4 161.8,542.9 189.5,542.9" fill="none" stroke="#1a1a1a" stroke-width="1.3" stroke-linejoin="miter"/>
<g transform="translate(165.6,541.9) scale(0.9,1)"><text x="0" y="0" font-family="Liberation Sans" font-size="8.33" font-weight="normal" fill="#1a1a1a" stroke="#1a1a1a" stroke-width="0.5" textLength="26.6" lengthAdjust="spacing">МН–22</text></g>
<line x1="71.5" y1="553.4" x2="150.1" y2="553.4" stroke="#1a1a1a" stroke-width="1.3" />
<line x1="73.5" y1="540.4" x2="73.5" y2="555.4" stroke="#1a1a1a" stroke-width="1.2" />
<line x1="86.2" y1="545.4" x2="86.2" y2="555.4" stroke="#1a1a1a" stroke-width="1.2" />
<line x1="149.1" y1="540.4" x2="149.1" y2="555.4" stroke="#1a1a1a" stroke-width="1.2" />
<line x1="71.5" y1="555.4" x2="75.5" y2="551.4" stroke="#1a1a1a" stroke-width="1.2" />
<line x1="84.2" y1="555.4" x2="88.2" y2="551.4" stroke="#1a1a1a" stroke-width="1.2" />
<line x1="147.1" y1="555.4" x2="151.1" y2="551.4" stroke="#1a1a1a" stroke-width="1.2" />
<g transform="translate(75.0,550.8) scale(1.0,1)"><text x="0" y="0" font-family="Liberation Sans" font-size="9.58" font-weight="normal" fill="#1a1a1a" stroke="#1a1a1a" stroke-width="0.45" textLength="9.0" lengthAdjust="spacingAndGlyphs">60</text></g>
<g transform="translate(110.9,550.8) scale(0.85,1)"><text x="0" y="0" font-family="Liberation Sans" font-size="9.58" font-weight="normal" fill="#1a1a1a" stroke="#1a1a1a" stroke-width="0.45" textLength="15.9" lengthAdjust="spacing">280</text></g>
<g transform="translate(316.1,415.6) scale(0.7,1)"><text x="0" y="0" font-family="Liberation Sans" font-size="15.14" font-weight="bold" fill="#1a1a1a" stroke="#1a1a1a" stroke-width="0.3" textLength="47.6" lengthAdjust="spacing">17–17</text></g>
<rect x="286.8" y="437.9" width="91.1" height="89.9" rx="0" fill="none" stroke="#1a1a1a" stroke-width="1.6"/>
<rect x="291.8" y="443.0" width="81.2" height="79.0" rx="6" fill="none" stroke="#222" stroke-width="1.4"/>
<rect x="293.8" y="445.0" width="77.2" height="75.0" rx="4.5" fill="none" stroke="#333" stroke-width="1.1"/>
<line x1="292.8" y1="509.0" x2="372.0" y2="509.0" stroke="#333" stroke-width="1.2" />
<path d="M306.0,522.0 V457.8 H311.2 V522.0" fill="#fff" stroke="#2a2a2a" stroke-width="1.3"/>
<path d="M328.9,522.0 V457.8 H334.1 V522.0" fill="#fff" stroke="#2a2a2a" stroke-width="1.3"/>
<path d="M351.5,522.0 V457.8 H356.7 V522.0" fill="#fff" stroke="#2a2a2a" stroke-width="1.3"/>
<circle cx="297.6" cy="449.5" r="3.8" fill="#fff" stroke="#1a1a1a" stroke-width="1.5"/>
<line x1="292.3" y1="449.5" x2="302.9" y2="449.5" stroke="#555" stroke-width="0.9" />
<circle cx="319.9" cy="449.5" r="3.8" fill="#fff" stroke="#1a1a1a" stroke-width="1.5"/>
<line x1="314.6" y1="449.5" x2="325.2" y2="449.5" stroke="#555" stroke-width="0.9" />
<circle cx="342.5" cy="449.5" r="3.8" fill="#fff" stroke="#1a1a1a" stroke-width="1.5"/>
<line x1="337.2" y1="449.5" x2="347.8" y2="449.5" stroke="#555" stroke-width="0.9" />
<circle cx="365.7" cy="449.5" r="3.8" fill="#fff" stroke="#1a1a1a" stroke-width="1.5"/>
<line x1="360.4" y1="449.5" x2="371.0" y2="449.5" stroke="#555" stroke-width="0.9" />
<circle cx="297.6" cy="517.0" r="3.8" fill="#fff" stroke="#1a1a1a" stroke-width="1.5"/>
<line x1="292.3" y1="517.0" x2="302.9" y2="517.0" stroke="#555" stroke-width="0.9" />
<circle cx="319.9" cy="517.0" r="3.8" fill="#fff" stroke="#1a1a1a" stroke-width="1.5"/>
<line x1="314.6" y1="517.0" x2="325.2" y2="517.0" stroke="#555" stroke-width="0.9" />
<circle cx="342.5" cy="517.0" r="3.8" fill="#fff" stroke="#1a1a1a" stroke-width="1.5"/>
<line x1="337.2" y1="517.0" x2="347.8" y2="517.0" stroke="#555" stroke-width="0.9" />
<circle cx="365.7" cy="517.0" r="3.8" fill="#fff" stroke="#1a1a1a" stroke-width="1.5"/>
<line x1="360.4" y1="517.0" x2="371.0" y2="517.0" stroke="#555" stroke-width="0.9" />
<rect x="299.0" y="523.2" width="65.3" height="3.6" rx="0" fill="none" stroke="#1a1a1a" stroke-width="1.3"/>
<line x1="300.0" y1="526.5" x2="302.5" y2="523.5" stroke="#1a1a1a" stroke-width="1.1" />
<line x1="303.0" y1="526.5" x2="305.5" y2="523.5" stroke="#1a1a1a" stroke-width="1.1" />
<line x1="306.0" y1="526.5" x2="308.5" y2="523.5" stroke="#1a1a1a" stroke-width="1.1" />
<line x1="309.0" y1="526.5" x2="311.5" y2="523.5" stroke="#1a1a1a" stroke-width="1.1" />
<line x1="312.0" y1="526.5" x2="314.5" y2="523.5" stroke="#1a1a1a" stroke-width="1.1" />
<line x1="315.0" y1="526.5" x2="317.5" y2="523.5" stroke="#1a1a1a" stroke-width="1.1" />
<line x1="318.0" y1="526.5" x2="320.5" y2="523.5" stroke="#1a1a1a" stroke-width="1.1" />
<line x1="321.0" y1="526.5" x2="323.5" y2="523.5" stroke="#1a1a1a" stroke-width="1.1" />
<line x1="324.0" y1="526.5" x2="326.5" y2="523.5" stroke="#1a1a1a" stroke-width="1.1" />
<line x1="327.0" y1="526.5" x2="329.5" y2="523.5" stroke="#1a1a1a" stroke-width="1.1" />
<line x1="330.0" y1="526.5" x2="332.5" y2="523.5" stroke="#1a1a1a" stroke-width="1.1" />
<line x1="333.0" y1="526.5" x2="335.5" y2="523.5" stroke="#1a1a1a" stroke-width="1.1" />
<line x1="336.0" y1="526.5" x2="338.5" y2="523.5" stroke="#1a1a1a" stroke-width="1.1" />
<line x1="339.0" y1="526.5" x2="341.5" y2="523.5" stroke="#1a1a1a" stroke-width="1.1" />
<line x1="342.0" y1="526.5" x2="344.5" y2="523.5" stroke="#1a1a1a" stroke-width="1.1" />
<line x1="345.0" y1="526.5" x2="347.5" y2="523.5" stroke="#1a1a1a" stroke-width="1.1" />
<line x1="348.0" y1="526.5" x2="350.5" y2="523.5" stroke="#1a1a1a" stroke-width="1.1" />
<line x1="351.0" y1="526.5" x2="353.5" y2="523.5" stroke="#1a1a1a" stroke-width="1.1" />
<line x1="354.0" y1="526.5" x2="356.5" y2="523.5" stroke="#1a1a1a" stroke-width="1.1" />
<line x1="357.0" y1="526.5" x2="359.5" y2="523.5" stroke="#1a1a1a" stroke-width="1.1" />
<line x1="360.0" y1="526.5" x2="362.5" y2="523.5" stroke="#1a1a1a" stroke-width="1.1" />
<line x1="363.0" y1="526.5" x2="365.5" y2="523.5" stroke="#1a1a1a" stroke-width="1.1" />
<polyline points="364.3,527.0 375.9,543.8 406.4,543.8" fill="none" stroke="#1a1a1a" stroke-width="1.3" stroke-linejoin="miter"/>
<g transform="translate(381.7,542.8) scale(0.9,1)"><text x="0" y="0" font-family="Liberation Sans" font-size="8.33" font-weight="normal" fill="#1a1a1a" stroke="#1a1a1a" stroke-width="0.5" textLength="27.4" lengthAdjust="spacing">МН–22</text></g>
<line x1="284.8" y1="554.8" x2="365.3" y2="554.8" stroke="#1a1a1a" stroke-width="1.3" />
<line x1="286.8" y1="541.8" x2="286.8" y2="556.8" stroke="#1a1a1a" stroke-width="1.2" />
<line x1="300.5" y1="546.8" x2="300.5" y2="556.8" stroke="#1a1a1a" stroke-width="1.2" />
<line x1="364.3" y1="541.8" x2="364.3" y2="556.8" stroke="#1a1a1a" stroke-width="1.2" />
<line x1="284.8" y1="556.8" x2="288.8" y2="552.8" stroke="#1a1a1a" stroke-width="1.2" />
<line x1="298.5" y1="556.8" x2="302.5" y2="552.8" stroke="#1a1a1a" stroke-width="1.2" />
<line x1="362.3" y1="556.8" x2="366.3" y2="552.8" stroke="#1a1a1a" stroke-width="1.2" />
<g transform="translate(288.9,552.2) scale(1.0,1)"><text x="0" y="0" font-family="Liberation Sans" font-size="9.58" font-weight="normal" fill="#1a1a1a" stroke="#1a1a1a" stroke-width="0.45" textLength="9.5" lengthAdjust="spacingAndGlyphs">60</text></g>
<g transform="translate(325.1,552.2) scale(0.85,1)"><text x="0" y="0" font-family="Liberation Sans" font-size="9.58" font-weight="normal" fill="#1a1a1a" stroke="#1a1a1a" stroke-width="0.45" textLength="17.1" lengthAdjust="spacing">280</text></g>
<g transform="translate(563.8,416.3) scale(0.7,1)"><text x="0" y="0" font-family="Liberation Sans" font-size="15.00" font-weight="bold" fill="#1a1a1a" stroke="#1a1a1a" stroke-width="0.3" textLength="47.7" lengthAdjust="spacing">18–18</text></g>
<rect x="535.5" y="438.7" width="90.0" height="89.1" rx="0" fill="none" stroke="#1a1a1a" stroke-width="1.6"/>
<rect x="539.6" y="443.0" width="81.2" height="79.0" rx="6" fill="none" stroke="#222" stroke-width="1.4"/>
<rect x="541.6" y="445.0" width="77.2" height="75.0" rx="4.5" fill="none" stroke="#333" stroke-width="1.1"/>
<line x1="540.6" y1="510.4" x2="619.8" y2="510.4" stroke="#333" stroke-width="1.2" />
<path d="M554.4,522.0 V457.8 H559.6 V522.0" fill="#fff" stroke="#2a2a2a" stroke-width="1.3"/>
<path d="M577.0,522.0 V457.8 H582.2 V522.0" fill="#fff" stroke="#2a2a2a" stroke-width="1.3"/>
<path d="M600.2,522.0 V457.8 H605.4 V522.0" fill="#fff" stroke="#2a2a2a" stroke-width="1.3"/>
<circle cx="546.3" cy="449.5" r="3.8" fill="#fff" stroke="#1a1a1a" stroke-width="1.5"/>
<line x1="541.0" y1="449.5" x2="551.6" y2="449.5" stroke="#555" stroke-width="0.9" />
<circle cx="568.0" cy="449.5" r="3.8" fill="#fff" stroke="#1a1a1a" stroke-width="1.5"/>
<line x1="562.7" y1="449.5" x2="573.3" y2="449.5" stroke="#555" stroke-width="0.9" />
<circle cx="590.6" cy="449.5" r="3.8" fill="#fff" stroke="#1a1a1a" stroke-width="1.5"/>
<line x1="585.3" y1="449.5" x2="595.9" y2="449.5" stroke="#555" stroke-width="0.9" />
<circle cx="613.0" cy="449.5" r="3.8" fill="#fff" stroke="#1a1a1a" stroke-width="1.5"/>
<line x1="607.7" y1="449.5" x2="618.3" y2="449.5" stroke="#555" stroke-width="0.9" />
<circle cx="546.3" cy="517.0" r="3.8" fill="#fff" stroke="#1a1a1a" stroke-width="1.5"/>
<line x1="541.0" y1="517.0" x2="551.6" y2="517.0" stroke="#555" stroke-width="0.9" />
<circle cx="568.0" cy="517.0" r="3.8" fill="#fff" stroke="#1a1a1a" stroke-width="1.5"/>
<line x1="562.7" y1="517.0" x2="573.3" y2="517.0" stroke="#555" stroke-width="0.9" />
<circle cx="590.6" cy="517.0" r="3.8" fill="#fff" stroke="#1a1a1a" stroke-width="1.5"/>
<line x1="585.3" y1="517.0" x2="595.9" y2="517.0" stroke="#555" stroke-width="0.9" />
<circle cx="613.0" cy="517.0" r="3.8" fill="#fff" stroke="#1a1a1a" stroke-width="1.5"/>
<line x1="607.7" y1="517.0" x2="618.3" y2="517.0" stroke="#555" stroke-width="0.9" />
<rect x="547.7" y="523.2" width="65.3" height="3.6" rx="0" fill="none" stroke="#1a1a1a" stroke-width="1.3"/>
<polyline points="613.0,527.5 626.0,543.8 651.6,543.8" fill="none" stroke="#1a1a1a" stroke-width="1.3" stroke-linejoin="miter"/>
<g transform="translate(626.5,542.8) scale(0.9,1)"><text x="0" y="0" font-family="Liberation Sans" font-size="8.33" font-weight="normal" fill="#1a1a1a" stroke="#1a1a1a" stroke-width="0.5" textLength="27.9" lengthAdjust="spacing">МН–24</text></g>
<line x1="533.5" y1="554.8" x2="614.0" y2="554.8" stroke="#1a1a1a" stroke-width="1.3" />
<line x1="535.5" y1="541.8" x2="535.5" y2="556.8" stroke="#1a1a1a" stroke-width="1.2" />
<line x1="548.6" y1="546.8" x2="548.6" y2="556.8" stroke="#1a1a1a" stroke-width="1.2" />
<line x1="613.0" y1="541.8" x2="613.0" y2="556.8" stroke="#1a1a1a" stroke-width="1.2" />
<line x1="533.5" y1="556.8" x2="537.5" y2="552.8" stroke="#1a1a1a" stroke-width="1.2" />
<line x1="546.6" y1="556.8" x2="550.6" y2="552.8" stroke="#1a1a1a" stroke-width="1.2" />
<line x1="611.0" y1="556.8" x2="615.0" y2="552.8" stroke="#1a1a1a" stroke-width="1.2" />
<g transform="translate(537.0,552.2) scale(1.0,1)"><text x="0" y="0" font-family="Liberation Sans" font-size="9.58" font-weight="normal" fill="#1a1a1a" stroke="#1a1a1a" stroke-width="0.45" textLength="9.0" lengthAdjust="spacingAndGlyphs">60</text></g>
<g transform="translate(573.2,552.2) scale(0.85,1)"><text x="0" y="0" font-family="Liberation Sans" font-size="9.58" font-weight="normal" fill="#1a1a1a" stroke="#1a1a1a" stroke-width="0.45" textLength="17.1" lengthAdjust="spacing">280</text></g>
<g transform="translate(781.6,416.0) scale(0.7,1)"><text x="0" y="0" font-family="Liberation Sans" font-size="15.14" font-weight="bold" fill="#1a1a1a" stroke="#1a1a1a" stroke-width="0.3" textLength="48.7" lengthAdjust="spacing">19–19</text></g>
<rect x="753.2" y="437.9" width="90.5" height="89.1" rx="0" fill="none" stroke="#1a1a1a" stroke-width="1.6"/>
<rect x="757.6" y="443.0" width="81.2" height="79.0" rx="6" fill="none" stroke="#222" stroke-width="1.4"/>
<rect x="759.6" y="445.0" width="77.2" height="75.0" rx="4.5" fill="none" stroke="#333" stroke-width="1.1"/>
<line x1="758.6" y1="510.0" x2="837.8" y2="510.0" stroke="#333" stroke-width="1.2" />
<path d="M772.4,522.0 V457.8 H777.6 V522.0" fill="#fff" stroke="#2a2a2a" stroke-width="1.3"/>
<path d="M794.1,522.0 V457.8 H799.3 V522.0" fill="#fff" stroke="#2a2a2a" stroke-width="1.3"/>
<path d="M817.9,522.0 V457.8 H823.1 V522.0" fill="#fff" stroke="#2a2a2a" stroke-width="1.3"/>
<circle cx="764.2" cy="449.5" r="3.8" fill="#fff" stroke="#1a1a1a" stroke-width="1.5"/>
<line x1="758.9" y1="449.5" x2="769.5" y2="449.5" stroke="#555" stroke-width="0.9" />
<circle cx="764.2" cy="472.1" r="3.8" fill="#fff" stroke="#1a1a1a" stroke-width="1.5"/>
<line x1="758.9" y1="472.1" x2="769.5" y2="472.1" stroke="#555" stroke-width="0.9" />
<circle cx="764.2" cy="493.0" r="3.8" fill="#fff" stroke="#1a1a1a" stroke-width="1.5"/>
<line x1="758.9" y1="493.0" x2="769.5" y2="493.0" stroke="#555" stroke-width="0.9" />
<circle cx="764.2" cy="517.0" r="3.8" fill="#fff" stroke="#1a1a1a" stroke-width="1.5"/>
<line x1="758.9" y1="517.0" x2="769.5" y2="517.0" stroke="#555" stroke-width="0.9" />
<circle cx="832.1" cy="449.5" r="3.8" fill="#fff" stroke="#1a1a1a" stroke-width="1.5"/>
<line x1="826.8" y1="449.5" x2="837.4" y2="449.5" stroke="#555" stroke-width="0.9" />
<circle cx="832.1" cy="472.0" r="3.8" fill="#fff" stroke="#1a1a1a" stroke-width="1.5"/>
<line x1="826.8" y1="472.0" x2="837.4" y2="472.0" stroke="#555" stroke-width="0.9" />
<circle cx="832.1" cy="493.0" r="3.8" fill="#fff" stroke="#1a1a1a" stroke-width="1.5"/>
<line x1="826.8" y1="493.0" x2="837.4" y2="493.0" stroke="#555" stroke-width="0.9" />
<circle cx="832.1" cy="517.0" r="3.8" fill="#fff" stroke="#1a1a1a" stroke-width="1.5"/>
<line x1="826.8" y1="517.0" x2="837.4" y2="517.0" stroke="#555" stroke-width="0.9" />
<rect x="766.3" y="523.2" width="62.3" height="3.6" rx="0" fill="none" stroke="#1a1a1a" stroke-width="1.3"/>
<polyline points="828.6,527.0 842.0,543.8 870.7,543.8" fill="none" stroke="#1a1a1a" stroke-width="1.3" stroke-linejoin="miter"/>
<g transform="translate(845.0,542.8) scale(0.9,1)"><text x="0" y="0" font-family="Liberation Sans" font-size="8.33" font-weight="normal" fill="#1a1a1a" stroke="#1a1a1a" stroke-width="0.5" textLength="28.6" lengthAdjust="spacing">МН–24</text></g>
<line x1="751.2" y1="554.8" x2="831.0" y2="554.8" stroke="#1a1a1a" stroke-width="1.3" />
<line x1="753.2" y1="541.8" x2="753.2" y2="556.8" stroke="#1a1a1a" stroke-width="1.2" />
<line x1="766.3" y1="546.8" x2="766.3" y2="556.8" stroke="#1a1a1a" stroke-width="1.2" />
<line x1="830.0" y1="541.8" x2="830.0" y2="556.8" stroke="#1a1a1a" stroke-width="1.2" />
<line x1="751.2" y1="556.8" x2="755.2" y2="552.8" stroke="#1a1a1a" stroke-width="1.2" />
<line x1="764.3" y1="556.8" x2="768.3" y2="552.8" stroke="#1a1a1a" stroke-width="1.2" />
<line x1="828.0" y1="556.8" x2="832.0" y2="552.8" stroke="#1a1a1a" stroke-width="1.2" />
<g transform="translate(755.0,552.2) scale(1.0,1)"><text x="0" y="0" font-family="Liberation Sans" font-size="9.58" font-weight="normal" fill="#1a1a1a" stroke="#1a1a1a" stroke-width="0.45" textLength="10.0" lengthAdjust="spacingAndGlyphs">60</text></g>
<g transform="translate(790.9,552.2) scale(0.85,1)"><text x="0" y="0" font-family="Liberation Sans" font-size="9.58" font-weight="normal" fill="#1a1a1a" stroke="#1a1a1a" stroke-width="0.45" textLength="17.8" lengthAdjust="spacing">280</text></g>
<path d="M909.6,0 A10.5,10.5 0 0 0 930.9,0" fill="none" stroke="#222" stroke-width="1.6"/>
<line x1="905.8" y1="0.0" x2="906.3" y2="3.5" stroke="#1a1a1a" stroke-width="1.4" />
<line x1="932.5" y1="17.0" x2="932.5" y2="20.0" stroke="#555" stroke-width="1.2" />
<line x1="932.5" y1="26.0" x2="932.5" y2="29.0" stroke="#555" stroke-width="1.2" />
<line x1="704.2" y1="556.0" x2="704.5" y2="561.5" stroke="#444" stroke-width="1.0" />
<line x1="705.6" y1="556.0" x2="705.8" y2="561.5" stroke="#444" stroke-width="1.0" />
<rect x="595.0" y="30.4" width="2" height="1.3" fill="#555"/>
<rect x="528.5" y="106.4" width="2" height="1.3" fill="#555"/>
<rect x="638.5" y="141.9" width="2" height="1.3" fill="#555"/>
<rect x="486.0" y="182.4" width="2" height="1.3" fill="#555"/>
<rect x="211.5" y="128.1" width="2" height="1.3" fill="#555"/>
<rect x="870.0" y="342.4" width="2" height="1.3" fill="#555"/>
<rect x="759.0" y="383.4" width="2" height="1.3" fill="#555"/>
<rect x="784.0" y="387.4" width="2" height="1.3" fill="#555"/>
<rect x="664.8" y="29.1" width="2" height="1.3" fill="#555"/>
</svg></body></html>
